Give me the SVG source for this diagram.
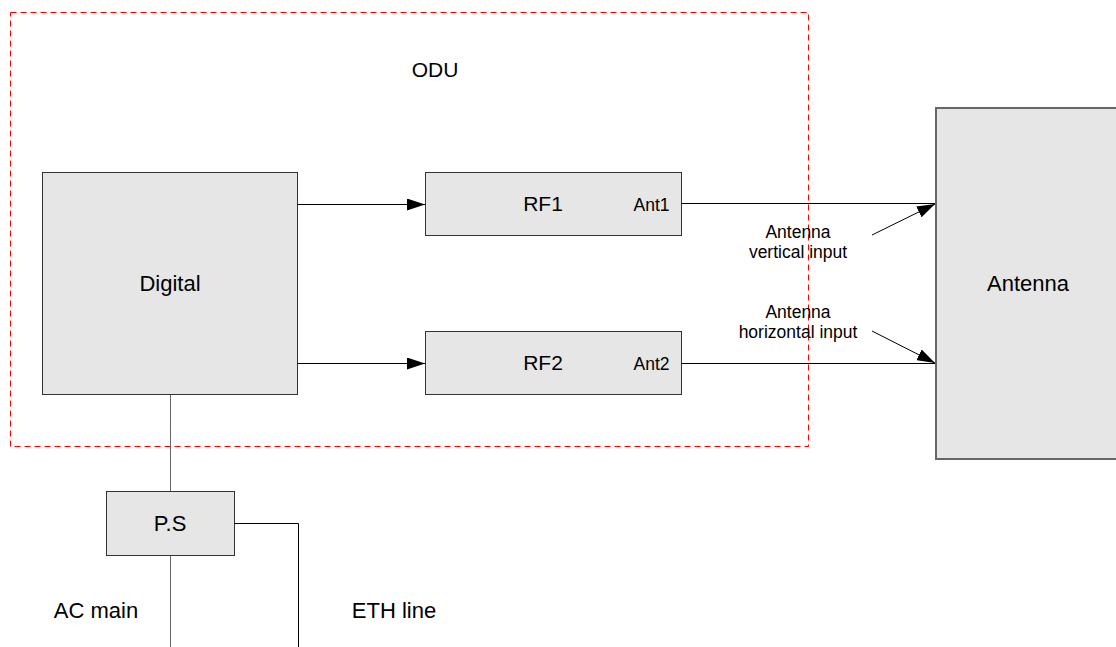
<svg xmlns="http://www.w3.org/2000/svg" width="1116" height="647" viewBox="0 0 1116 647">
  <defs>
    <style>
      .box { fill: #e6e6e6; stroke: #333; stroke-width: 1; }
      .ant { fill: #e6e6e6; stroke: #666; stroke-width: 2; }
      .wire { stroke: #000; stroke-width: 1; fill: none; }
      .gwire { stroke: #666; stroke-width: 1; fill: none; }
      .lbl { font-family: "Liberation Sans", Arial, sans-serif; fill: #000; text-anchor: middle; }
      .big { font-size: 22px; }
      .mid { font-size: 21px; }
      .small { font-size: 17.5px; }
    </style>
    <marker id="arrow" viewBox="0 0 18 12" refX="18" refY="6" markerWidth="18" markerHeight="12" markerUnits="userSpaceOnUse" orient="auto">
      <path d="M0,0 L18,6 L0,12 Z" fill="#000"/>
    </marker>
  </defs>
  <rect width="1116" height="647" fill="#fff"/>

  <!-- ODU enclosure -->
  <g id="odu">
    <rect x="10.5" y="12.5" width="798" height="434" fill="none" stroke="#ff0000" stroke-width="1" stroke-dasharray="6,4"/>
    <text class="lbl mid" x="435" y="77">ODU</text>
  </g>

  <g id="digital">
    <rect class="box" x="42.5" y="172.5" width="255" height="222"/>
    <text class="lbl big" x="170" y="291">Digital</text>
  </g>

  <g id="rf1">
    <rect class="box" x="425.5" y="172.5" width="256" height="63"/>
    <text class="lbl mid" x="543" y="211">RF1</text>
    <text class="lbl small" x="651.5" y="211">Ant1</text>
  </g>

  <g id="rf2">
    <rect class="box" x="425.5" y="331.5" width="256" height="63"/>
    <text class="lbl mid" x="543" y="370">RF2</text>
    <text class="lbl small" x="651.5" y="370">Ant2</text>
  </g>

  <g id="antenna">
    <rect class="ant" x="936" y="108" width="190" height="351"/>
    <text class="lbl big" x="1028" y="291">Antenna</text>
  </g>

  <g id="ps">
    <rect class="box" x="106.5" y="491.5" width="128" height="64"/>
    <text class="lbl big" x="170" y="531">P.S</text>
  </g>

  <g id="connectors">
    <line class="wire" x1="297" y1="204.5" x2="425" y2="204.5" marker-end="url(#arrow)"/>
    <line class="wire" x1="297" y1="363.5" x2="425" y2="363.5" marker-end="url(#arrow)"/>
    <line class="wire" x1="681" y1="203.5" x2="935" y2="203.5"/>
    <line class="wire" x1="681" y1="363.5" x2="935" y2="363.5"/>
    <line class="wire" x1="872" y1="235" x2="935" y2="204" marker-end="url(#arrow)"/>
    <line class="wire" x1="872" y1="331" x2="935" y2="363" marker-end="url(#arrow)"/>
    <line class="gwire" x1="170.5" y1="395" x2="170.5" y2="491"/>
    <line class="gwire" x1="170.5" y1="556" x2="170.5" y2="647"/>
    <polyline class="wire" points="234,523.5 298.5,523.5 298.5,647"/>
  </g>

  <g id="labels">
    <text class="lbl small" x="798" y="238">Antenna</text>
    <text class="lbl small" x="798" y="258">vertical input</text>
    <text class="lbl small" x="798" y="318">Antenna</text>
    <text class="lbl small" x="798" y="338">horizontal input</text>
    <text class="lbl big" x="96" y="618">AC main</text>
    <text class="lbl big" x="394" y="618">ETH line</text>
  </g>
</svg>
